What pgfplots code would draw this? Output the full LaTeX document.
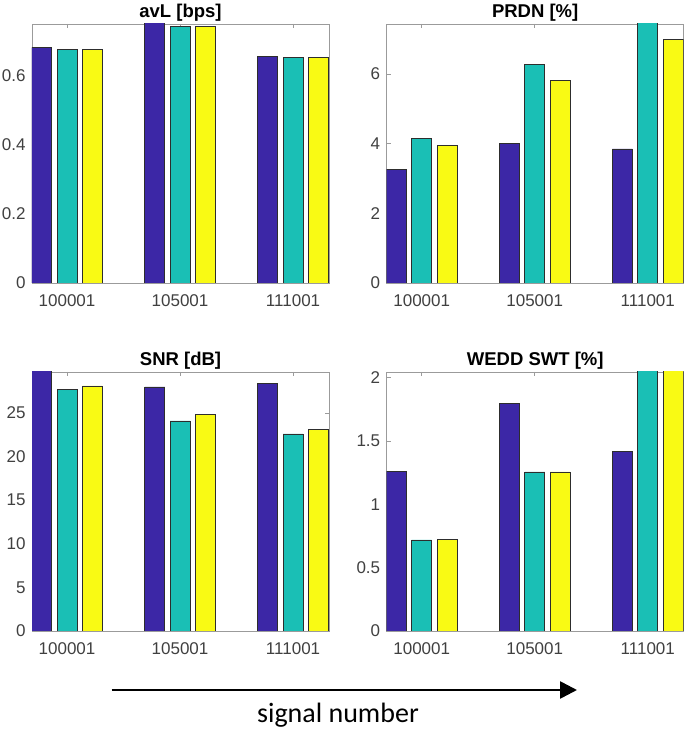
\documentclass[border=0pt]{standalone}
\usepackage{pgfplots}
\pgfplotsset{compat=1.18}
\usepackage{pgfplotstable}
\usepackage{fontspec}
\setmainfont{Liberation Sans}
\newfontfamily\carlito{Carlito}
\usetikzlibrary{arrows.meta}

\definecolor{cblue}{RGB}{60,39,166}
\definecolor{cteal}{RGB}{26,191,181}
\definecolor{cyellow}{RGB}{249,250,20}
\definecolor{boxgray}{RGB}{155,155,155}
\definecolor{labgray}{RGB}{64,64,64}

% one table per panel: signal, then the three methods
\pgfplotstableread{
x blue teal yellow
1 0.682 0.677 0.677
2 0.760 0.744 0.744
3 0.658 0.653 0.653
}\avL
\pgfplotstableread{
x blue teal yellow
1 3.27 4.16 3.96
2 4.00 6.27 5.82
3 3.85 7.60 7.00
}\prdn
\pgfplotstableread{
x blue teal yellow
1 30.2 27.7 28.1
2 28.0 24.1 24.8
3 28.4 22.6 23.1
}\snr
\pgfplotstableread{
x blue teal yellow
1 1.262 0.720 0.726
2 1.798 1.256 1.256
3 1.417 2.100 2.100
}\wedd

\pgfplotsset{
  panel/.style={
    scale only axis,
    width=297pt, height=259pt,
    anchor=south west,
    ybar=5.3pt, bar width=20pt,
    xmin=0.69, xmax=3.318, ymin=0,
    xtick={1,2,3},
    xticklabels={100001,105001,111001},
    tick align=inside, tick pos=both,
    major tick length=4pt,
    axis line style={boxgray, line width=0.7pt},
    tick style={boxgray, line width=0.7pt},
    /pgf/number format/assume math mode=true,
    ticklabel style={font=\fontsize{17}{18}\selectfont, text=labgray},
    xticklabel style={yshift=-8pt},
    yticklabel style={xshift=-3pt},
    title style={font=\bfseries\fontsize{18.5}{20}\selectfont, yshift=-7pt},
    every axis plot/.append style={draw={rgb,255:red,45;green,45;blue,45}, line width=0.6pt},
    clip=true,
  },
}

\begin{document}
\begin{tikzpicture}
\useasboundingbox (0,0) rectangle (685pt,733pt);

\begin{axis}[panel, at={(32pt,450pt)}, title={avL [bps]},
  ymax=0.751, ytick={0,0.2,0.4,0.6}]
\addplot[fill=cblue] table[x=x,y=blue] {\avL};
\addplot[fill=cteal] table[x=x,y=teal] {\avL};
\addplot[fill=cyellow] table[x=x,y=yellow] {\avL};
\end{axis}

\begin{axis}[panel, at={(386.7pt,450pt)}, title={PRDN [\%]},
  ymax=7.44, ytick={0,2,4,6}]
\addplot[fill=cblue] table[x=x,y=blue] {\prdn};
\addplot[fill=cteal] table[x=x,y=teal] {\prdn};
\addplot[fill=cyellow] table[x=x,y=yellow] {\prdn};
\end{axis}

\begin{axis}[panel, at={(32pt,102pt)}, title={SNR [dB]},
  ymax=29.7, ytick={0,5,10,15,20,25}]
\addplot[fill=cblue] table[x=x,y=blue] {\snr};
\addplot[fill=cteal] table[x=x,y=teal] {\snr};
\addplot[fill=cyellow] table[x=x,y=yellow] {\snr};
\end{axis}

\begin{axis}[panel, at={(386.7pt,102pt)}, title={WEDD SWT [\%]},
  ymax=2.045, ytick={0,0.5,1,1.5,2}]
\addplot[fill=cblue] table[x=x,y=blue] {\wedd};
\addplot[fill=cteal] table[x=x,y=teal] {\wedd};
\addplot[fill=cyellow] table[x=x,y=yellow] {\wedd};
\end{axis}

% direction arrow under the panels
\draw[line width=2.6pt, -{Triangle[length=17pt,width=17pt]}] (111.7pt,43pt) -- (577pt,43pt);
\node[font=\carlito\fontsize{28}{30}\selectfont] at (338pt,18pt) {signal number};
\end{tikzpicture}
\end{document}
